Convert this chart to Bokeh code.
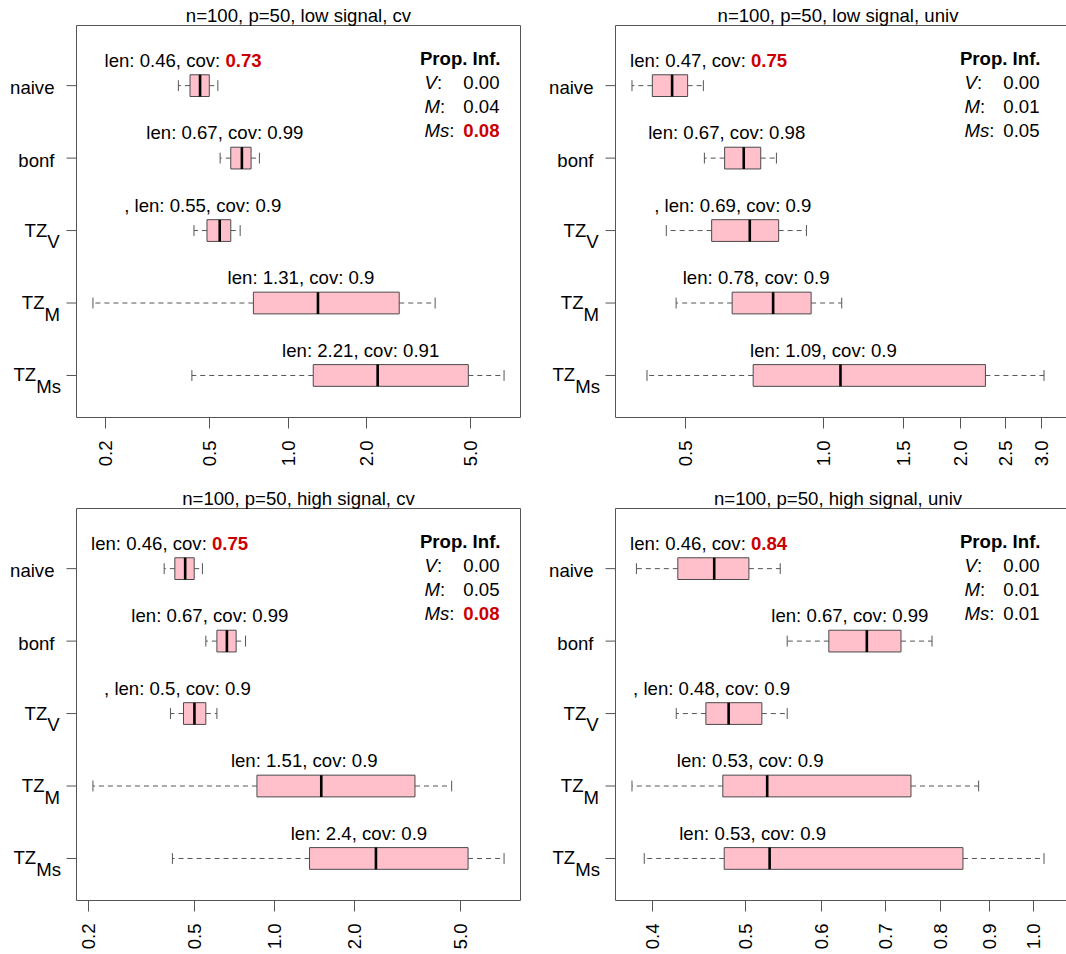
import math
from bokeh.plotting import figure
from bokeh.layouts import column, row
from bokeh.models import Range1d, FixedTicker, PrintfTickFormatter
from bokeh.core.properties import value
from bokeh.embed import file_html
from bokeh.resources import INLINE

# ---------------- data ----------------
methods = ["naive", "bonf", "TZ_V", "TZ_M", "TZ_Ms"]
titles = ["n=100, p=50, low signal, cv", "n=100, p=50, low signal, univ",
          "n=100, p=50, high signal, cv", "n=100, p=50, high signal, univ"]

# panel 1: low signal, cv
lo1 = [0.380, 0.549, 0.436, 0.179, 0.428]
q1_1 = [0.421, 0.603, 0.489, 0.736, 1.247]
med1 = [0.460, 0.665, 0.547, 1.300, 2.200]
q3_1 = [0.499, 0.721, 0.603, 2.660, 4.890]
hi1 = [0.538, 0.776, 0.655, 3.650, 6.700]
len1 = ["0.46", "0.67", "0.55", "1.31", "2.21"]
cov1 = ["0.73", "0.99", "0.9", "0.9", "0.91"]
covred1 = [True, False, False, False, False]
pinf1 = ["0.00", "0.04", "0.08"]
pinfred1 = [False, False, True]
ticks1 = [0.2, 0.5, 1.0, 2.0, 5.0]

# panel 2: low signal, univ
lo2 = [0.3815, 0.5495, 0.4535, 0.4765, 0.4115]
q1_2 = [0.4227, 0.6085, 0.570, 0.632, 0.7026]
med2 = [0.467, 0.670, 0.6907, 0.777, 1.091]
q3_2 = [0.505, 0.730, 0.799, 0.941, 2.265]
hi2 = [0.5467, 0.790, 0.919, 1.098, 3.043]
len2 = ["0.47", "0.67", "0.69", "0.78", "1.09"]
cov2 = ["0.75", "0.98", "0.9", "0.9", "0.9"]
covred2 = [True, False, False, False, False]
pinf2 = ["0.00", "0.01", "0.05"]
pinfred2 = [False, False, False]
ticks2 = [0.5, 1.0, 1.5, 2.0, 2.5, 3.0]

# panel 3: high signal, cv
lo3 = [0.3855, 0.553, 0.407, 0.208, 0.414]
q1_3 = [0.4228, 0.6086, 0.4556, 0.861, 1.358]
med3 = [0.4624, 0.6637, 0.501, 1.503, 2.413]
q3_3 = [0.500, 0.719, 0.553, 3.384, 5.36]
hi3 = [0.537, 0.780, 0.6086, 4.65, 7.32]
len3 = ["0.46", "0.67", "0.5", "1.51", "2.4"]
cov3 = ["0.75", "0.99", "0.9", "0.9", "0.9"]
covred3 = [True, False, False, False, False]
pinf3 = ["0.00", "0.05", "0.08"]
pinfred3 = [False, False, True]
ticks3 = [0.2, 0.5, 1.0, 2.0, 5.0]

# panel 4: high signal, univ
lo4 = [0.3844, 0.5527, 0.4231, 0.3803, 0.3917]
q1_4 = [0.4247, 0.611, 0.4544, 0.4733, 0.4749]
med4 = [0.4636, 0.6696, 0.480, 0.5267, 0.5298]
q3_4 = [0.504, 0.727, 0.520, 0.7447, 0.844]
hi4 = [0.5435, 0.7834, 0.5527, 0.8765, 1.026]
len4 = ["0.46", "0.67", "0.48", "0.53", "0.53"]
cov4 = ["0.84", "0.99", "0.9", "0.9", "0.9"]
covred4 = [True, False, False, False, False]
pinf4 = ["0.00", "0.01", "0.01"]
pinfred4 = [False, False, False]
ticks4 = [0.4, 0.5, 0.6, 0.7, 0.8, 0.9, 1.0]

pinf_names = ["V", "M", "Ms"]

# ---------------- style ----------------
FONT = "Liberation Sans"
FSN = 18.6
FS = "%.1fpx" % FSN
RED = "#CC0000"
PINK = "#FFC0CB"
FRAME = "#555555"
FH = 392            # inner box height (px)
YTOP, YBOT = 0.17, 5.58
PPU = FH / (YBOT - YTOP)
TOP_PAD = 25        # space above the box (title)
TXT_UP = 6.0        # baseline correction (px)

AW = {' ': 278, ',': 278, '.': 278, ':': 278, 'l': 222, 'e': 556, 'n': 556, 'c': 500,
      'o': 556, 'v': 500, 'V': 667, 'M': 833, 's': 500, 'T': 611, 'Z': 611}


def tw(s):
    return sum(AW.get(ch, 556) for ch in s) * FSN / 1000.0


def txt(p, x, y, s, xoff=0.0, align="left", color="black", style="normal"):
    p.text(x=[x], y=[y - TXT_UP / PPU], text=[s], x_offset=[xoff], text_align=align,
           text_baseline="alphabetic", text_font=value(FONT), text_font_size=FS,
           text_color=color, text_font_style=style)


def make_panel(title, lo, q1, med, q3, hi, lens, covs, covred, pinf, pinfred, ticks,
               fw, left_pad, right_pad, bb, open_right):
    lmin = math.log10(min(lo))
    lmax = math.log10(max(hi))
    ext = 0.04 * (lmax - lmin)
    xs, xe = 10 ** (lmin - ext), 10 ** (lmax + ext)
    dec = math.log10(xe) - math.log10(xs)
    pxdec = fw / dec
    rx0 = xs * 10 ** (-left_pad / pxdec)
    rx1 = xe * 10 ** (right_pad / pxdec)
    ytop, ybot = YTOP, YBOT
    p = figure(frame_width=fw + left_pad + right_pad, frame_height=FH + TOP_PAD,
               x_axis_type="log", y_axis_location=None,
               x_range=Range1d(rx0, rx1), y_range=Range1d(ybot, ytop - TOP_PAD / PPU),
               min_border_left=0, min_border_right=0, min_border_top=0,
               min_border_bottom=bb, toolbar_location=None, output_backend="svg")
    p.xgrid.visible = False
    p.ygrid.visible = False
    p.outline_line_color = None
    p.background_fill_color = "white"
    p.border_fill_color = "white"

    ys = [1, 2, 3, 4, 5]
    # panel box
    xr = rx1 if open_right else xe
    p.segment(x0=[xs, xs, xs], y0=[ytop, ybot, ytop], x1=[xr, xr, xs], y1=[ytop, ybot, ybot],
              line_color=FRAME, line_width=1)
    if not open_right:
        p.segment(x0=[xe], y0=[ytop], x1=[xe], y1=[ybot], line_color=FRAME, line_width=1)
    # y ticks
    xt = xs * 10 ** (-10 / pxdec)
    p.segment(x0=[xt] * 5, y0=ys, x1=[xs] * 5, y1=ys, line_color=FRAME, line_width=1)

    # whiskers
    p.segment(x0=q1, y0=ys, x1=lo, y1=ys, line_color="#555555", line_width=1, line_dash="5 4")
    p.segment(x0=q3, y0=ys, x1=hi, y1=ys, line_color="#555555", line_width=1, line_dash="5 4")
    p.segment(x0=lo, y0=[y - 0.075 for y in ys], x1=lo, y1=[y + 0.075 for y in ys],
              line_color="#555555", line_width=1)
    p.segment(x0=hi, y0=[y - 0.075 for y in ys], x1=hi, y1=[y + 0.075 for y in ys],
              line_color="#555555", line_width=1)
    # boxes
    p.quad(left=q1, right=q3, top=[y - 0.15 for y in ys], bottom=[y + 0.15 for y in ys],
           fill_color=PINK, line_color="#4a4a4a", line_width=1)
    p.segment(x0=med, y0=[y - 0.15 for y in ys], x1=med, y1=[y + 0.15 for y in ys],
              line_color="black", line_width=2.6)

    # box labels
    for i, y in enumerate(ys):
        pre = (", " if i == 2 else "") + "len: " + lens[i] + ", cov: "
        val = covs[i]
        W = tw(pre + val)
        mpx = (math.log10(med[i]) - math.log10(xs)) * pxdec
        c = max(-17.0, 14.5 - mpx + W / 2.0)
        ty = y - 19.3 / PPU
        if covred[i]:
            s = c - W / 2.0 + tw(pre)
            txt(p, med[i], ty, pre, s, "right")
            txt(p, med[i], ty, val, s, "left", RED, "bold")
        else:
            txt(p, med[i], ty, pre + val, c, "center")

    # Prop. Inf. legend
    txt(p, xe, ytop + 39.3 / PPU, "Prop. Inf.", -20, "right", "black", "bold")
    rows_px = [63.3, 87.3, 110.5]
    for k in range(3):
        yy = ytop + rows_px[k] / PPU
        nm = pinf_names[k]
        txt(p, xe, yy, nm, -96, "left", "black", "italic")
        txt(p, xe, yy, ":", -96 + tw(nm), "left")
        txt(p, xe, yy, pinf[k], -21, "right",
            RED if pinfred[k] else "black", "bold" if pinfred[k] else "normal")

    # title
    txt(p, math.sqrt(xs * xe), ytop - 4.0 / PPU, title, 0, "center")

    # y labels
    for i, y in enumerate(ys):
        m = methods[i]
        if "_" in m:
            main, sub = m.split("_")
            off = -(18.0 + 0.9 * tw(sub))
            txt(p, xs, y + 5.5 / PPU, main, off, "right")
            txt(p, xs, y + 17.0 / PPU, sub, off, "left")
        else:
            txt(p, xs, y + 8.3 / PPU, m, -22, "right")

    # x axis
    xa = p.xaxis[0]
    xa.bounds = (xs, xr)
    xa.ticker = FixedTicker(ticks=ticks)
    xa.formatter = PrintfTickFormatter(format="%.1f")
    xa.major_label_orientation = math.pi / 2
    xa.major_tick_out = 11
    xa.major_tick_in = 0
    xa.minor_tick_line_color = None
    xa.axis_line_color = FRAME
    xa.axis_line_width = 1
    xa.major_tick_line_color = FRAME
    xa.major_label_standoff = 12
    xa.major_label_text_font = FONT
    xa.major_label_text_font_size = FS
    xa.major_label_text_color = "black"
    return p


p1 = make_panel(titles[0], lo1, q1_1, med1, q3_1, hi1, len1, cov1, covred1, pinf1, pinfred1,
                ticks1, 444, 76, 2, 66, False)
p2 = make_panel(titles[1], lo2, q1_2, med2, q3_2, hi2, len2, cov2, covred2, pinf2, pinfred2,
                ticks2, 445, 93, 6, 66, True)
p3 = make_panel(titles[2], lo3, q1_3, med3, q3_3, hi3, len3, cov3, covred3, pinf3, pinfred3,
                ticks3, 444, 76, 2, 50, False)
p4 = make_panel(titles[3], lo4, q1_4, med4, q3_4, hi4, len4, cov4, covred4, pinf4, pinfred4,
                ticks4, 445, 93, 6, 50, True)

layout = column(row(p1, p2), row(p3, p4))
open("out.html", "w").write(file_html(layout, INLINE))
